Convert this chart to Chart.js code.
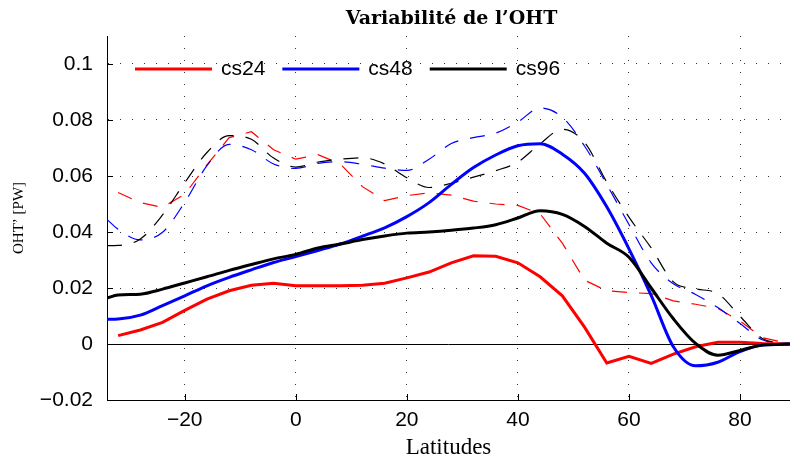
<!DOCTYPE html>
<html>
<head>
<meta charset="utf-8">
<script src="https://cdn.jsdelivr.net/npm/chart.js@4.4.1/dist/chart.umd.min.js"></script>
<style>
  html, body { margin: 0; padding: 0; background: #fff; }
  #wrap { width: 790px; height: 459px; }
</style>
</head>
<body>
<div id="wrap"><canvas id="oht"></canvas></div>
<script>
// latitudes (deg), shared by all six curves
const lats = [-34, -32, -28, -24, -20, -16, -12, -8, -4, 0, 4, 8, 12, 16, 20, 24, 28, 32, 36, 40, 44, 48, 52, 56, 60, 64, 68, 72, 76, 80, 84, 89]

// solid curves (PW)
const cs24 = [null, 0.003, 0.005, 0.0077, 0.012, 0.016, 0.019, 0.021, 0.0217, 0.0208, 0.0208, 0.0208, 0.021, 0.0217, 0.0236, 0.0257, 0.029, 0.0315, 0.0313, 0.029, 0.024, 0.0172, 0.006, -0.0068, -0.0044, -0.0069, -0.0036, -0.001, 0.0006, 0.0006, 0.0002, 0]
const cs48 = [0.0088, 0.0089, 0.0103, 0.0137, 0.0172, 0.0208, 0.0238, 0.0265, 0.0291, 0.0312, 0.0334, 0.0357, 0.0385, 0.0415, 0.0455, 0.0505, 0.057, 0.063, 0.0675, 0.0708, 0.0715, 0.0678, 0.061, 0.049, 0.034, 0.0174, -0.001, -0.0078, -0.0065, -0.0027, -0.0004, 0]
const cs96 = [0.0164, 0.0175, 0.0178, 0.0196, 0.0218, 0.024, 0.0263, 0.0284, 0.0304, 0.032, 0.0343, 0.0357, 0.0373, 0.0386, 0.0396, 0.04, 0.0406, 0.0414, 0.0426, 0.045, 0.0476, 0.0463, 0.042, 0.036, 0.031, 0.02, 0.009, 0.0002, -0.004, -0.0023, -0.0004, 0]

// dashed curves (PW)
const cs24_dash = [null, 0.0541, 0.0505, 0.0488, 0.0535, 0.064, 0.0737, 0.0758, 0.0694, 0.066, 0.0676, 0.0643, 0.0562, 0.0512, 0.053, 0.054, 0.0532, 0.051, 0.05, 0.0495, 0.0465, 0.036, 0.0228, 0.019, 0.0184, 0.018, 0.0154, 0.0142, 0.0127, 0.0082, 0.0023, 0]
const cs48_dash = [0.0445, 0.041, 0.0372, 0.0399, 0.0506, 0.0637, 0.0713, 0.0694, 0.0643, 0.0627, 0.0645, 0.0651, 0.0642, 0.0628, 0.062, 0.066, 0.0716, 0.0737, 0.0753, 0.0793, 0.0843, 0.081, 0.0707, 0.057, 0.0427, 0.029, 0.0215, 0.0177, 0.013, 0.0073, 0.0015, 0]
const cs96_dash = [0.0351, 0.0352, 0.0375, 0.0461, 0.0576, 0.0684, 0.0744, 0.0731, 0.0664, 0.0632, 0.065, 0.066, 0.0665, 0.0643, 0.0594, 0.0559, 0.0574, 0.0596, 0.0619, 0.065, 0.0715, 0.0767, 0.072, 0.0578, 0.0453, 0.0343, 0.0222, 0.0197, 0.018, 0.0099, 0.002, 0]

const seriesNames = ["cs24", "cs48", "cs96"]
const seriesColors = ["#ff0000", "#0000ff", "#000000"]

const xTicks = [-20, 0, 20, 40, 60, 80]
const yTicks = [-0.02, 0, 0.02, 0.04, 0.06, 0.08, 0.1]
const yTickLabels = ["\u22120.02", "0", "0.02", "0.04", "0.06", "0.08", "0.1"]
const xTickLabels = ["\u221220", "0", "20", "40", "60", "80"]

const TITLE = "Variabilit\u00e9 de l\u2019OHT"
const X_TITLE = "Latitudes"
const Y_TITLE = "OHT\u2019 [PW]"

const SANS = "'Liberation Sans', Arial, sans-serif"
const SERIF = "'Liberation Serif', 'Times New Roman', serif"

function pts(vals) {
    return lats.map(function(x, i) { return {x: x, y: vals[i]} })
}

function solid(i, vals) {
    return {
        label: seriesNames[i],
        data: pts(vals),
        borderColor: seriesColors[i],
        backgroundColor: seriesColors[i],
        borderWidth: 3,
        pointRadius: 0,
        cubicInterpolationMode: i == 0 ? "default" : "monotone",
        tension: 0,
        order: 2 - i
    }
}

function dashed(i, vals) {
    return {
        label: "",
        data: pts(vals),
        borderColor: seriesColors[i],
        backgroundColor: seriesColors[i],
        borderWidth: 1.2,
        borderDash: [15, 12],
        pointRadius: 0,
        cubicInterpolationMode: i == 0 ? "default" : "monotone",
        tension: 0,
        order: 5 - i
    }
}

// thin black line at OHT' = 0
const zeroLine = {
    id: "zeroLine",
    beforeDatasetsDraw: function(chart) {
        const ctx = chart.ctx, a = chart.chartArea
        const y = Math.round(chart.scales.y.getPixelForValue(0)) + 0.5
        ctx.save()
        ctx.strokeStyle = "#000"
        ctx.lineWidth = 1
        ctx.beginPath()
        ctx.moveTo(a.left, y)
        ctx.lineTo(a.right, y)
        ctx.stroke()
        ctx.restore()
    }
}

// matlab style ticks pointing into the plot, legend and title
const decorations = {
    id: "decorations",
    afterDraw: function(chart) {
        const ctx = chart.ctx, a = chart.chartArea
        const sx = chart.scales.x, sy = chart.scales.y
        ctx.save()
        ctx.strokeStyle = "#000"
        ctx.lineWidth = 1
        ctx.beginPath()
        xTicks.forEach(function(v) {
            const px = Math.round(sx.getPixelForValue(v)) + 0.5
            ctx.moveTo(px, a.bottom)
            ctx.lineTo(px, a.bottom - 6)
        })
        yTicks.forEach(function(v) {
            const py = Math.round(sy.getPixelForValue(v)) + 0.5
            ctx.moveTo(a.left, py)
            ctx.lineTo(a.left + 6, py)
        })
        ctx.stroke()

        // legend, no box
        let lx = a.left + 28
        const ly = 69
        ctx.font = "21px " + SANS
        ctx.textBaseline = "middle"
        ctx.textAlign = "left"
        chart.data.datasets.forEach(function(ds) {
            if (!ds.label) return
            ctx.strokeStyle = ds.borderColor
            ctx.lineWidth = 3
            ctx.beginPath()
            ctx.moveTo(lx, ly)
            ctx.lineTo(lx + 77, ly)
            ctx.stroke()
            ctx.fillStyle = "#000"
            ctx.fillText(ds.label, lx + 86, ly)
            lx += 86 + ctx.measureText(ds.label).width + 17
        })

        ctx.font = "bold 19px 'DejaVu Serif', serif"
        ctx.textAlign = "center"
        ctx.fillText(TITLE, (a.left + a.right) / 2 + 3, 19)
        ctx.restore()
    }
}

const datasets = [
    solid(0, cs24), solid(1, cs48), solid(2, cs96),
    dashed(0, cs24_dash), dashed(1, cs48_dash), dashed(2, cs96_dash)
]

const config = {
    type: "line",
    data: { datasets: datasets },
    options: {
        responsive: true,
        maintainAspectRatio: false,
        animation: false,
        layout: { padding: { top: 36, right: 0, left: 0, bottom: 0 } },
        plugins: {
            legend: { display: false },
            title: { display: false },
            tooltip: { enabled: false }
        },
        scales: {
            x: {
                type: "linear",
                min: -34,
                max: 89,
                afterBuildTicks: function(s) { s.ticks = xTicks.map(function(v) { return {value: v} }) },
                afterFit: function(s) { s.height = 59 },
                ticks: {
                    color: "#000",
                    font: { family: SANS, size: 21 },
                    padding: 8,
                    maxRotation: 0,
                    callback: function(v, i) { return xTickLabels[i] }
                },
                grid: { color: "rgba(0,0,0,0.8)", lineWidth: 1, drawTicks: false },
                border: { display: true, color: "#000", width: 1, dash: [1, 11] },
                title: {
                    display: true,
                    text: X_TITLE,
                    color: "#000",
                    font: { family: SERIF, size: 23, lineHeight: 1 },
                    padding: { top: 0, bottom: 0 }
                }
            },
            y: {
                min: -0.02,
                max: 0.11,
                afterBuildTicks: function(s) { s.ticks = yTicks.map(function(v) { return {value: v} }) },
                afterFit: function(s) { s.width = 107 },
                ticks: {
                    color: "#000",
                    font: { family: SANS, size: 21 },
                    padding: 14,
                    callback: function(v, i) { return yTickLabels[i] }
                },
                grid: { color: "rgba(0,0,0,0.8)", lineWidth: 1, drawTicks: false },
                border: { display: true, color: "#000", width: 1, dash: [1, 11] },
                title: {
                    display: true,
                    text: Y_TITLE,
                    color: "#000",
                    font: { family: SERIF, size: 15 },
                    padding: { top: 10, bottom: 0 }
                }
            }
        }
    },
    plugins: [zeroLine, decorations]
}

new Chart(document.getElementById("oht"), config)
</script>
</body>
</html>
